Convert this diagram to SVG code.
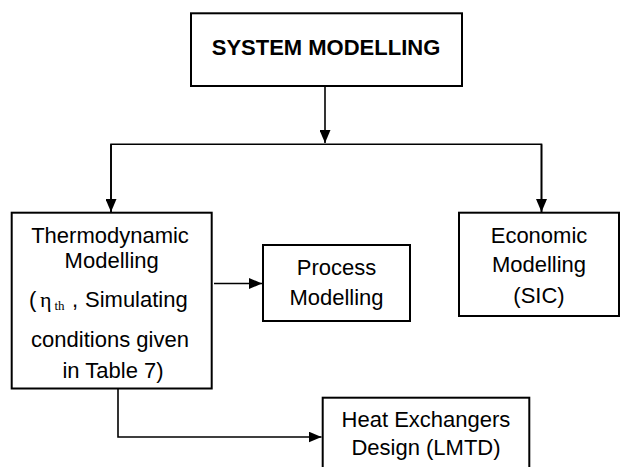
<svg xmlns="http://www.w3.org/2000/svg" width="621" height="467" viewBox="0 0 621 467">
<style>
.box{fill:#fff;stroke:#000;stroke-width:2}
.t{font-family:"Liberation Sans",Arial,sans-serif;font-size:22px;fill:#000;text-anchor:middle}
.b{font-weight:bold}
.ser{font-family:"Liberation Serif","Times New Roman",serif}
.c{fill:none;stroke:#000;stroke-width:1.6}
</style>
<defs>
<marker id="ah" markerUnits="userSpaceOnUse" markerWidth="13" markerHeight="11" viewBox="0 0 13 11" refX="13" refY="5.5" orient="auto">
<path d="M0,0 L13,5.5 L0,11 z" fill="#000"/>
</marker>
</defs>
<rect width="621" height="467" fill="#fff"/>
<g id="connectors">
<path class="c" d="M325,86 V143" marker-end="url(#ah)"/>
<path class="c" d="M111,212 V144.3 H541.5 V212"/>
<path class="c" d="M111,144.3 V212" marker-end="url(#ah)"/>
<path class="c" d="M541.5,144.3 V212" marker-end="url(#ah)"/>
<path class="c" d="M214,283.5 H262" marker-end="url(#ah)"/>
<path class="c" d="M118,389 V437 H321.5" marker-end="url(#ah)"/>
</g>
<g id="system">
<rect class="box" x="191" y="13.3" width="271" height="72.7"/>
<text class="t b" x="326" y="55">SYSTEM MODELLING</text>
</g>
<g id="thermo">
<rect class="box" x="11.7" y="212.7" width="200" height="175.8"/>
<text class="t" x="110" y="243.3">Thermodynamic</text>
<text class="t" x="111.7" y="268.3">Modelling</text>
<text class="t" style="text-anchor:start" y="306.7"><tspan x="29">(</tspan><tspan class="ser" x="40">η</tspan><tspan class="ser" x="54.5" y="310" font-size="13">th</tspan><tspan x="72" y="306.7">,</tspan><tspan x="85">Simulating</tspan></text>
<text class="t" x="110" y="347">conditions given</text>
<text class="t" x="113" y="378.3">in Table 7)</text>
</g>
<g id="process">
<rect class="box" x="263" y="245" width="147" height="76"/>
<text class="t" x="336.5" y="275">Process</text>
<text class="t" x="336.5" y="305">Modelling</text>
</g>
<g id="economic">
<rect class="box" x="459" y="212.7" width="160" height="103.3"/>
<text class="t" x="539" y="243">Economic</text>
<text class="t" x="539" y="272">Modelling</text>
<text class="t" x="539" y="303">(SIC)</text>
</g>
<g id="heat">
<rect class="box" x="322.7" y="397.7" width="206.6" height="80"/>
<text class="t" x="426" y="427.3">Heat Exchangers</text>
<text class="t" x="426" y="455">Design (LMTD)</text>
</g>
</svg>
